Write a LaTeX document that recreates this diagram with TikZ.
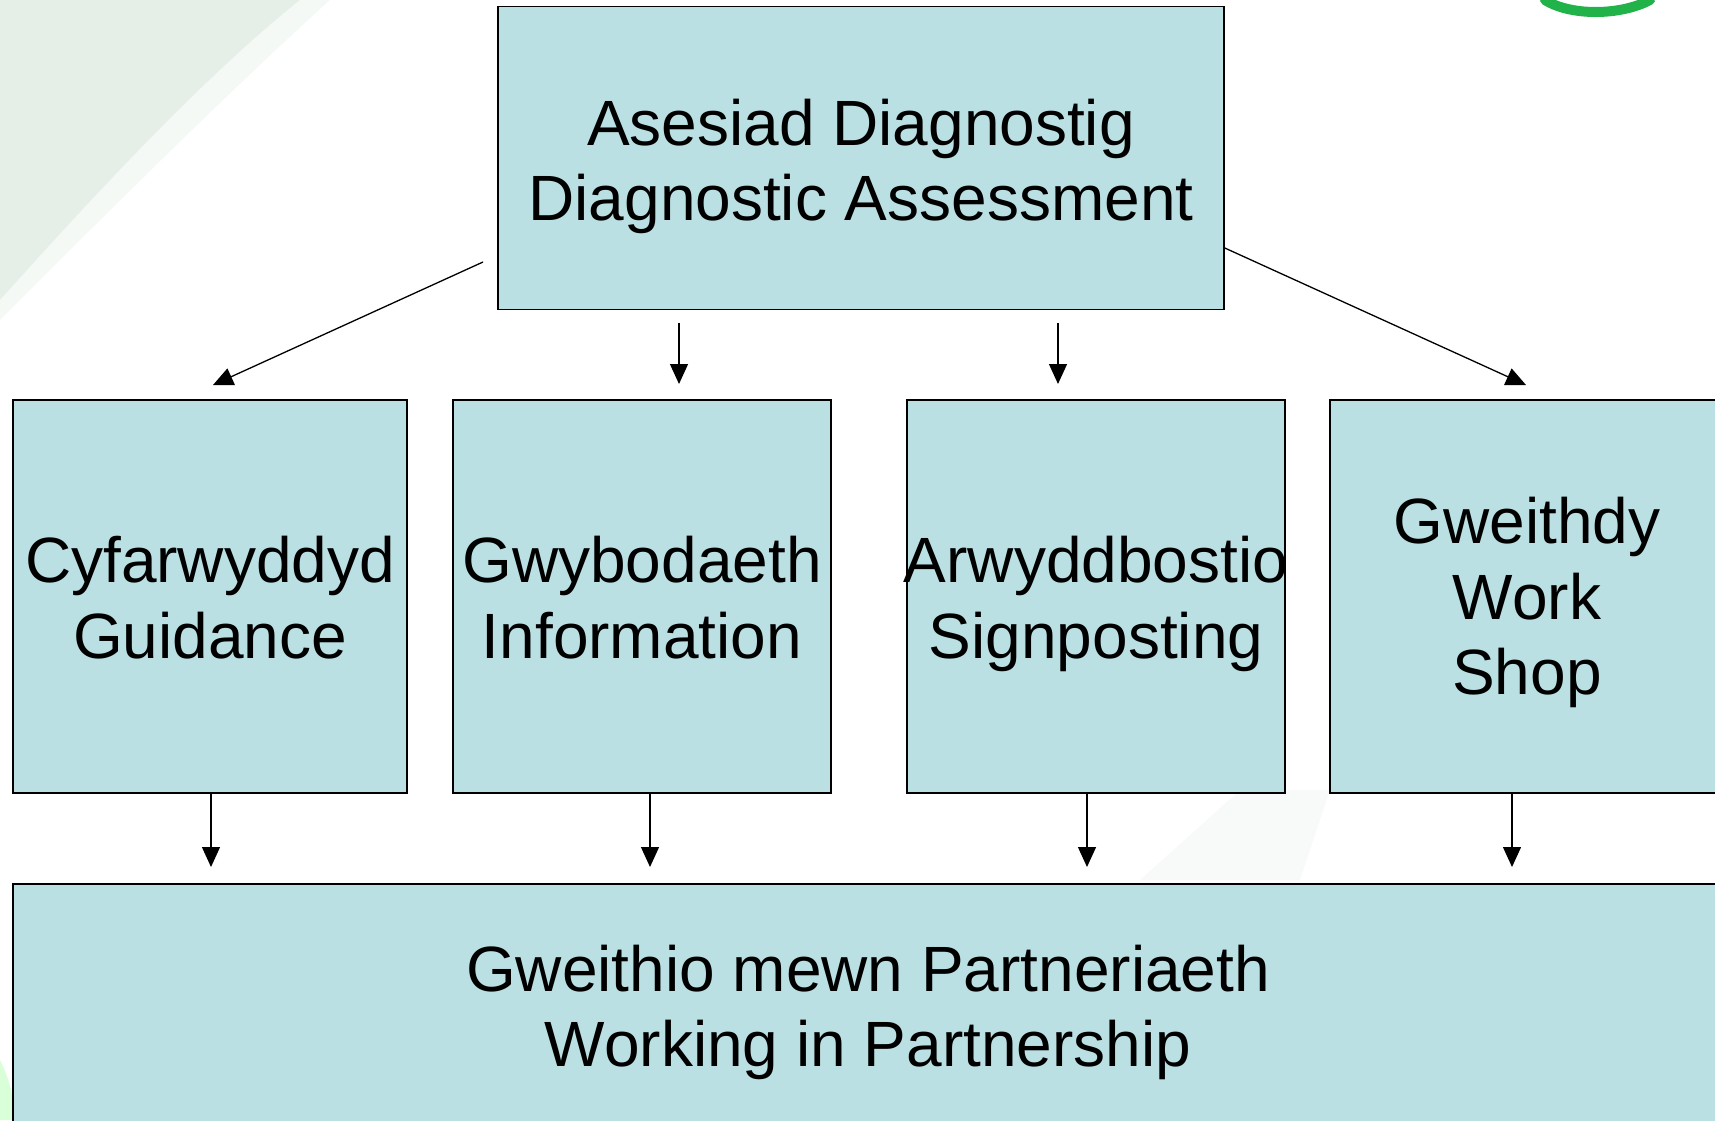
\documentclass[tikz,border=0pt]{standalone}
\usepackage{fontspec}
\setmainfont{Liberation Sans}
\usetikzlibrary{arrows.meta}
\definecolor{boxfill}{HTML}{BBE0E3}
\definecolor{swoosh}{HTML}{DEEAE1}
\definecolor{logogreen}{HTML}{22B24A}
\begin{document}
\begin{tikzpicture}[x=1pt,y=-1pt,
  box/.style={draw=black,fill=boxfill,line width=1.6pt,inner sep=0pt},
  boxtext/.style={inner sep=0pt,align=center,
    font=\fontsize{64}{75.5}\selectfont},
  conn/.style={line width=1.3pt,-{Triangle[length=20pt,width=18pt]}}]
\useasboundingbox (0,0) rectangle (1715,1120);
% background decorations
\fill[swoosh,opacity=0.8] (0,0) -- (300,0) .. controls (200,80) and (90,200) .. (0,300) -- cycle;
\fill[swoosh!50,opacity=0.6] (300,0) -- (330,0) .. controls (220,100) and (100,220) .. (0,320) -- (0,300) .. controls (90,200) and (200,80) .. (300,0) -- cycle;
\fill[green!25!white,opacity=0.6] (0,1060) .. controls (10,1080) and (15,1100) .. (12,1120) -- (0,1120) -- cycle;
\fill[swoosh!40,opacity=0.6] (1140,880) -- (1240,790) -- (1330,790) -- (1300,880) -- cycle;
\draw[logogreen,line width=10pt,line cap=round] (1545,0) .. controls (1570,16) and (1620,16) .. (1650,0);
% boxes
\node[box,minimum width=726pt,minimum height=303pt] (top) at (861,158) {};
\node[box,minimum width=394pt,minimum height=393pt] (b1) at (210,596.5) {};
\node[box,minimum width=378pt,minimum height=393pt] (b2) at (642,596.5) {};
\node[box,minimum width=378pt,minimum height=393pt] (b3) at (1096,596.5) {};
\node[box,minimum width=394pt,minimum height=393pt] (b4) at (1527,596.5) {};
\node[box,minimum width=1710pt,minimum height=250pt] (bot) at (868,1009) {};
% texts
\node[boxtext] (topt) at (861,168) {\strut Asesiad Diagnostig\\Diagnostic Assessment\strut};
\node[boxtext] (b1t) at (210,605.5) {\strut Cyfarwyddyd\\Guidance\strut};
\node[boxtext] (b2t) at (642,605.5) {\strut Gwybodaeth\\Information\strut};
\node[boxtext] (b3t) at (1096,605.5) {\strut Arwyddbostio\\Signposting\strut};
\node[boxtext] (b4t) at (1527,604) {\strut Gweithdy\\Work\\Shop\strut};
\node[boxtext] (bott) at (868,1014) {\strut Gweithio mewn Partneriaeth\\Working in Partnership\strut};
% connectors
\coordinate (s1) at (483,262);
\coordinate (s4) at (1224,248);
\coordinate (e1) at (213,385);
\coordinate (e4) at (1526,385);
\coordinate (s2) at (679,323);
\coordinate (e2) at (679,384);
\coordinate (s3) at (1058,323);
\coordinate (e3) at (1058,384);
\draw[conn] (s1) -- (e1);
\draw[conn] (s2) -- (e2);
\draw[conn] (s3) -- (e3);
\draw[conn] (top.east |- s4) -- (e4);
\draw[conn] (b1.south -| 211,0) -- (211,867);
\draw[conn] (b2.south -| 650,0) -- (650,867);
\draw[conn] (b3.south -| 1087,0) -- (1087,867);
\draw[conn] (b4.south -| 1512,0) -- (1512,867);
\end{tikzpicture}
\end{document}
